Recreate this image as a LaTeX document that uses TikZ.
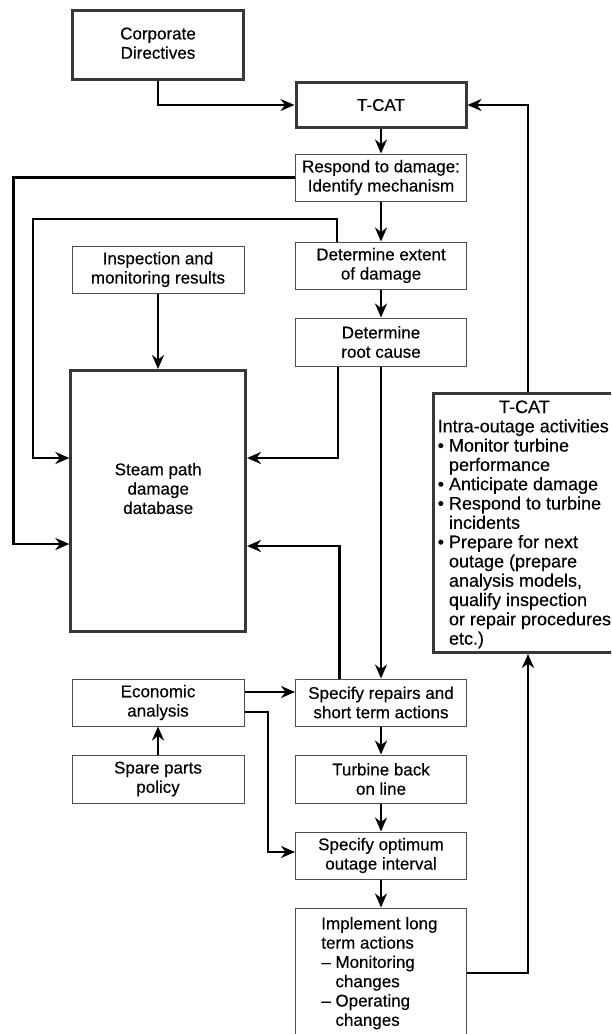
\documentclass[tikz,border=0pt]{standalone}
\usepackage{fontspec}
\setmainfont{Liberation Sans}[FakeBold=0.3]
\usetikzlibrary{arrows.meta}
\newcommand\boxfont{\fontsize{17}{19.3}\selectfont}
\newcommand\listfont{\fontsize{18}{19.3}\selectfont}
\begin{document}
\begin{tikzpicture}[x=1pt,y=-1pt,
  txt/.style={font=\boxfont, text=black},
  thinbox/.style={txt, draw=black!70, line width=1pt, fill=white, align=center,
    minimum width=171pt, minimum height=47pt, inner sep=0pt},
  thickbox/.style={txt, draw=black!78, line width=3pt, fill=white, align=center,
    inner sep=0pt},
  arr/.style={line width=2.3pt, -{Stealth[length=14pt,width=12pt,inset=4.5pt]}}]
\clip (0,0) rectangle (611,1034);
\fill[white] (0,0) rectangle (611,1034);

% heavy-framed boxes
\node[thickbox, minimum width=171pt, minimum height=68.5pt] (corp) at (158,45.2)
  {\raisebox{3pt}{\begin{tabular}{@{}c@{}}Corporate\\Directives\end{tabular}}};
\node[thickbox, minimum width=170pt, minimum height=45pt] (tcat) at (381,105) {T-CAT};
\node[thickbox, minimum width=174.7pt, minimum height=261pt] (steam) at (158.2,501) {};
\node[txt, align=center, inner sep=0pt] (steamlbl) at (158.2,488.5) {Steam path\\damage\\database};
\node[thickbox, minimum width=265pt, minimum height=259pt] (rtcat) at (566,523) {};

% process boxes
\node[thinbox] (resp) at (381,177.5) {Respond to damage:\\Identify mechanism};
\node[thinbox] (extent) at (381,265.5) {Determine extent\\of damage};
\node[thinbox, minimum width=172pt] (insp) at (158,269.5) {Inspection and\\monitoring results};
\node[thinbox, minimum height=48pt] (root) at (381,342) {Determine\\root cause};
\node[thinbox] (spec) at (381,702.5) {Specify repairs and\\short term actions};
\node[thinbox, minimum width=172pt] (econ) at (158,702.5) {Economic\\analysis};
\node[thinbox, minimum width=172pt, minimum height=48pt] (spare) at (158,779) {Spare parts\\policy};
\node[thinbox, minimum height=48pt] (turb) at (381,779) {Turbine back\\on line};
\node[thinbox] (opt) at (381,855.5) {Specify optimum\\outage interval};
\node[thinbox, minimum height=130pt] (impl) at (381,973) {};
\node[txt, inner sep=0pt, anchor=north west] (impllbl) at (321.1,915.6)
  {\begin{tabular}{@{}l@{}}
   Implement long\\
   term actions\\
   – Monitoring\\
   \hphantom{– }changes\\
   – Operating\\
   \hphantom{– }changes
   \end{tabular}};

% intra-outage activities list
\node[txt, font=\listfont, inner sep=0pt, anchor=north west] (rtcatlbl) at (437.5,399.3)
  {\begin{tabular}{@{}l@{}}
   \multicolumn{1}{@{}c@{}}{T-CAT}\\
   Intra-outage activities\\
   • Monitor turbine\\
   \hphantom{• }performance\\
   • Anticipate damage\\
   • Respond to turbine\\
   \hphantom{• }incidents\\
   • Prepare for next\\
   \hphantom{• }outage (prepare\\
   \hphantom{• }analysis models,\\
   \hphantom{• }qualify inspection\\
   \hphantom{• }or repair procedures\\
   \hphantom{• }etc.)
   \end{tabular}};

% bend points of the routed connectors
\coordinate (rx) at (528,0);
\coordinate (l1) at (13.6,544);
\coordinate (l2a) at (337,219);
\coordinate (l2b) at (33,458);
\coordinate (l3) at (338.3,458);
\coordinate (l4) at (339.4,546);
\coordinate (l5) at (0,692);
\coordinate (l6) at (267.7,712);
\coordinate (l7) at (267.7,852);

% connectors
\draw[arr] (corp.south) |- (tcat.west);
\draw[arr] (tcat.south) -- (resp.north);
\draw[arr] (resp.south) -- (extent.north);
\draw[arr] (extent.south) -- (root.north);
\draw[arr] (root.south) -- (spec.north);
\draw[arr] (insp.south) -- (steam.north -| insp.south);
\draw[arr] (resp.west) -| (l1) -- (steam.west |- l1);
\draw[arr] (extent.north -| l2a) -- (l2a) -| (l2b) -- (steam.west |- l2b);
\draw[arr] (root.south -| l3) -- (l3) -- (steam.east |- l3);
\draw[arr] (spec.north -| l4) -- (l4) -- (steam.east |- l4);
\draw[arr] (econ.east |- l5) -- (spec.west |- l5);
\draw[arr] (econ.east |- l6) -- (l6) -- (l7) -- (opt.west |- l7);
\draw[arr] (spare.north) -- (econ.south);
\draw[arr] (spec.south) -- (turb.north);
\draw[arr] (turb.south) -- (opt.north);
\draw[arr] (opt.south) -- (impl.north);
\draw[arr] (impl.east) -| (rtcat.south -| rx);
\draw[arr] (rtcat.north -| rx) |- (tcat.east);
\end{tikzpicture}
\end{document}
